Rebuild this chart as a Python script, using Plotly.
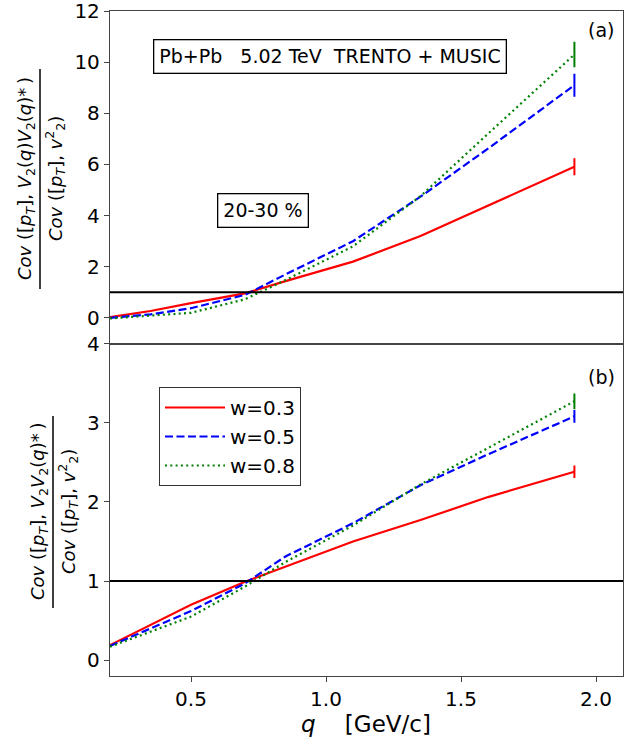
import plotly.graph_objects as go
from plotly.subplots import make_subplots

# ---- data ----
q = [0.2, 0.35, 0.5, 0.7, 0.85, 1.1, 1.35, 1.6, 1.92]

top_w03 = [0.03, 0.27, 0.58, 0.96, 1.44, 2.2, 3.2, 4.4, 5.91]
top_w05 = [0.0, 0.14, 0.38, 0.9, 1.7, 3.0, 4.74, 6.62, 9.1]
top_w08 = [-0.02, 0.08, 0.2, 0.73, 1.48, 2.8, 4.76, 7.2, 10.3]
top_err = [0.33, 0.45, 0.5]

bot_w03 = [0.19, 0.44, 0.70, 0.99, 1.18, 1.50, 1.77, 2.06, 2.38]
bot_w05 = [0.18, 0.40, 0.62, 0.97, 1.31, 1.73, 2.21, 2.60, 3.08]
bot_w08 = [0.17, 0.36, 0.55, 0.93, 1.24, 1.70, 2.22, 2.68, 3.27]
bot_err = [0.08, 0.08, 0.1]

labels = ["w=0.3", "w=0.5", "w=0.8"]
colors = ["#ff0000", "#0000ff", "#008000"]
dashes = ["solid", "8px,3.5px", "2px,3.3px"]

# ---- geometry helpers (pixels -> paper) ----
L, R, T, B = 110, 623, 11, 676
W, H = 640, 744
def px(x):
    return (x - L) / (R - L)
def py(y):
    return (B - y) / (B - T)

FONT = "DejaVu Sans"
fig = make_subplots(rows=2, cols=1, shared_xaxes=True, vertical_spacing=0)

top = [top_w03, top_w05, top_w08]
bot = [bot_w03, bot_w05, bot_w08]
for row, series, errs in [(1, top, top_err), (2, bot, bot_err)]:
    for i in range(3):
        fig.add_trace(go.Scatter(x=q, y=series[i], mode="lines", name=labels[i],
                                 legendgroup=labels[i],
                                 line=dict(color=colors[i], width=2.2, dash=dashes[i]),
                                 showlegend=(row == 2)), row=row, col=1)
        fig.add_trace(go.Scatter(x=[q[-1]], y=[series[i][-1]], mode="markers",
                                 legendgroup=labels[i],
                                 marker=dict(size=0.1, color=colors[i]),
                                 error_y=dict(type="data", array=[errs[i]], color=colors[i],
                                              thickness=2, width=0),
                                 showlegend=False), row=row, col=1)
    fig.add_hline(y=1, line=dict(color="black", width=2), row=row, col=1)

axis_common = dict(showline=True, mirror=True, linecolor="#444", linewidth=1.3,
                   ticks="outside", ticklen=5, tickwidth=1.3, tickcolor="#444",
                   showgrid=False, zeroline=False, automargin=False,
                   ticklabeloverflow="allow",
                   tickfont=dict(family=FONT, size=20, color="black"))

fig.update_xaxes(range=[0.2, 2.1], **axis_common)
fig.update_xaxes(showticklabels=False, ticks="", row=1, col=1)
fig.update_xaxes(tickvals=[0.5, 1.0, 1.5, 2.0], ticktext=["0.5", "1.0", "1.5", "2.0"], row=2, col=1)
fig.update_yaxes(**axis_common)
fig.update_yaxes(range=[-1, 12], tickvals=[0, 2, 4, 6, 8, 10, 12], row=1, col=1)
fig.update_yaxes(range=[-0.2, 4], tickvals=[0, 1, 2, 3, 4], row=2, col=1)

def note(x, y, text, size=19, **kw):
    d = dict(x=px(x), y=py(y), xref="paper", yref="paper", showarrow=False,
             xanchor="center", yanchor="middle", text=text,
             font=dict(family=FONT, size=size, color="black"))
    d.update(kw)
    return d

ann = []
ann.append(note(366, 724, "<i>q</i>\u00a0\u00a0\u00a0\u00a0[GeV/c]", size=23))
ann.append(note(330, 56, "Pb+Pb\u00a0\u00a0\u00a05.02 TeV\u00a0\u00a0TRENTO + MUSIC",
                bordercolor="black", borderwidth=1.3, borderpad=5, bgcolor="white"))
ann.append(note(263, 210, "20-30 %",
                bordercolor="black", borderwidth=1.3, borderpad=5, bgcolor="white"))
ann.append(note(601, 30, "(a)"))
ann.append(note(601, 377, "(b)"))

num_top = "<i>Cov</i> ([<i>p</i><sub><i>T</i></sub>], <i>V</i><sub>2</sub>(<i>q</i>)<i>V</i><sub>2</sub>(<i>q</i>)*\u2009)"
num_bot = "<i>Cov</i> ([<i>p</i><sub><i>T</i></sub>], <i>V</i><sub>2</sub><i>V</i><sub>2</sub>(<i>q</i>)*\u2009)"
den = "<i>Cov</i> ([<i>p</i><sub><i>T</i></sub>], <i>v</i><sup>2</sup><sub>2</sub>)"
for (xn, xd, xl, yc, y0, y1, num) in [(26, 55, 40, 179, 69, 289, num_top),
                                      (39, 68, 53, 512, 416, 608, num_bot)]:
    ann.append(note(xn, yc, num, size=18, textangle=-90))
    ann.append(note(xd, yc, den, size=18, textangle=-90))
    fig.add_shape(type="line", xref="paper", yref="paper", x0=px(xl), x1=px(xl),
                  y0=py(y0), y1=py(y1), line=dict(color="black", width=1.5))

fig.update_layout(
    width=W, height=H, margin=dict(l=L, r=W - R, t=T, b=H - B, autoexpand=False),
    plot_bgcolor="white", paper_bgcolor="white", annotations=ann,
    font=dict(family=FONT, color="black"),
    legend=dict(x=px(159), y=py(387), xanchor="left", yanchor="top",
                bgcolor="white", bordercolor="#333", borderwidth=1,
                font=dict(family=FONT, size=20, color="black"),
                itemwidth=60, tracegroupgap=0),
)

fig.write_html("out.html")
